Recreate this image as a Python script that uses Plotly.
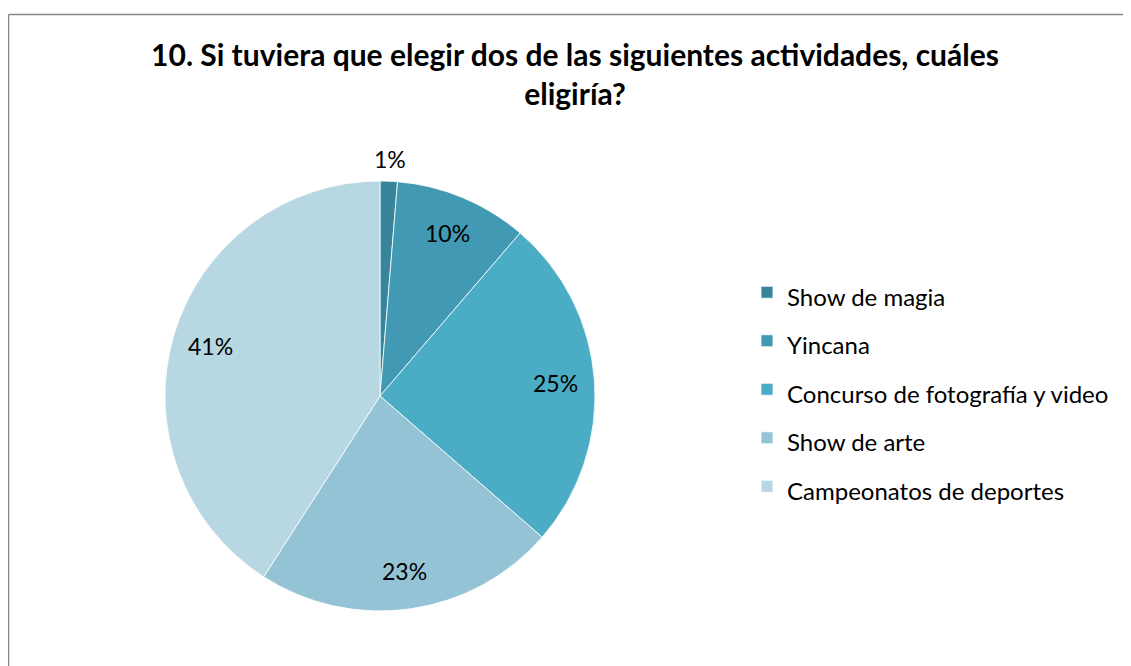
import math
import plotly.graph_objects as go

categories = ["Show de magia", "Yincana", "Concurso de fotografía y video", "Show de arte", "Campeonatos de deportes"]
values = [1.3, 10.0, 25.1, 22.7, 40.9]
colors = ["#37849B", "#4299B3", "#4BACC6", "#93C3D5", "#B7D7E3"]
label_radius = [1.105, 0.82, 0.82, 0.82, 0.82]
title_text = "10. Si tuviera que elegir dos de las siguientes actividades, cuáles<br>eligiría?"

W, H = 1131, 666
OFF = 8  # page offset of the figure
FONT = "Lato, 'Open Sans', sans-serif"


def px(x):
    return (x - OFF) / W


def py(y):
    return 1 - (y - OFF) / H


legend_labels = [f"<span style='font-size:24px'>{c}</span>" for c in categories]

dom_x = [px(165), px(595)]
dom_y = [py(611), py(181)]

fig = go.Figure(go.Pie(
    labels=legend_labels,
    values=values,
    sort=False,
    direction="clockwise",
    rotation=0,
    marker=dict(colors=colors, line=dict(color="white", width=0.8)),
    textinfo="none",
    domain=dict(x=dom_x, y=dom_y),
    hoverinfo="label+percent",
))

# percentage labels placed at slice mid-angles computed from the data
total = sum(values)
cx = (dom_x[0] + dom_x[1]) / 2 * W
cy = (dom_y[0] + dom_y[1]) / 2 * H
R = min((dom_x[1] - dom_x[0]) * W, (dom_y[1] - dom_y[0]) * H) / 2
annotations = []
cum = 0.0
for v, lr in zip(values, label_radius):
    mid = (cum + v / 2) / total * 2 * math.pi
    cum += v
    ax = cx + lr * R * math.sin(mid)
    ay = cy + lr * R * math.cos(mid)
    annotations.append(dict(
        x=ax / W, y=ay / H, xref="paper", yref="paper",
        text=f"{round(v / total * 100)}%", showarrow=False,
        xanchor="center", yanchor="middle",
        font=dict(family=FONT, size=23, color="#000000"),
    ))

fig.update_layout(
    width=W, height=H,
    margin=dict(l=0, r=0, t=0, b=0),
    paper_bgcolor="white",
    plot_bgcolor="white",
    font=dict(family=FONT, color="#000000"),
    title=dict(text="<b>" + title_text + "</b>", x=px(575), xanchor="center",
               y=py(66), yanchor="top",
               font=dict(family=FONT, size=30, color="#000000")),
    legend=dict(x=px(747), xanchor="left", y=py(263), yanchor="top",
                font=dict(family=FONT, size=35, color="#000000"),
                bgcolor="rgba(0,0,0,0)", itemclick=False),
    annotations=annotations,
    shapes=[
        dict(type="line", xref="paper", yref="paper", x0=px(8.5), x1=1.02, y0=py(14.5), y1=py(14.5),
             line=dict(color="#868686", width=1.5)),
        dict(type="line", xref="paper", yref="paper", x0=px(8.5), x1=px(8.5), y0=-0.02, y1=py(14.5),
             line=dict(color="#868686", width=1.5)),
    ],
)

fig.write_html("out.html")
